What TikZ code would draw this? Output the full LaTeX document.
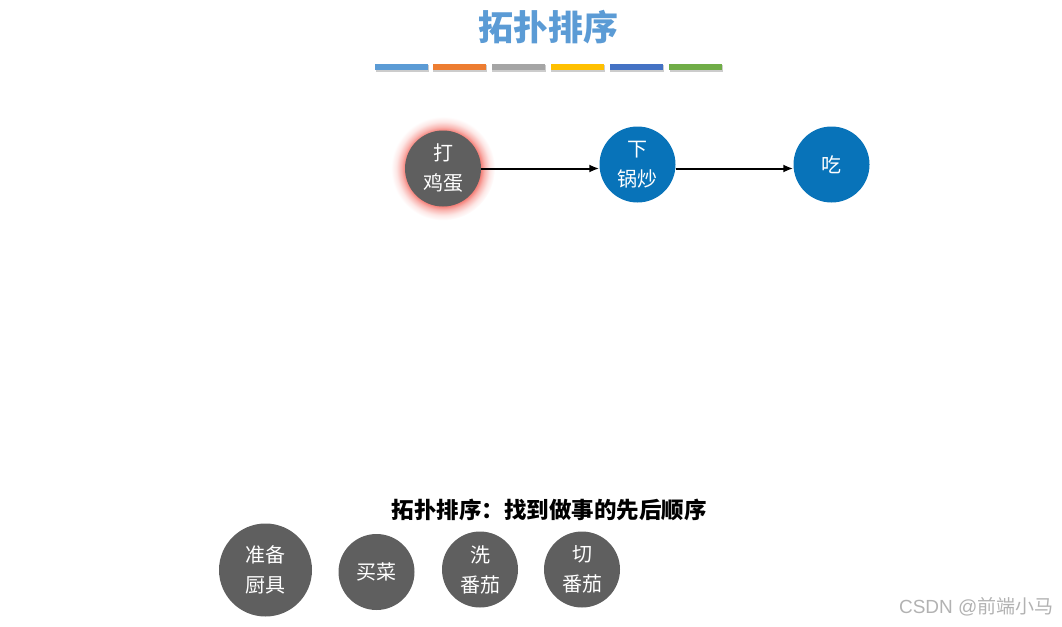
\documentclass[tikz,border=0pt]{standalone}
\usepackage{fontspec}
\setmainfont{Noto Sans CJK SC}
\newfontfamily\wmfont{Liberation Sans}
\usetikzlibrary{arrows.meta,shadings}
\definecolor{titleblue}{HTML}{5B9BD5}
\definecolor{barA}{HTML}{5B9BD5}
\definecolor{barB}{HTML}{ED7D31}
\definecolor{barC}{HTML}{A5A5A5}
\definecolor{barD}{HTML}{FFC000}
\definecolor{barE}{HTML}{4472C4}
\definecolor{barF}{HTML}{70AD47}
\definecolor{nodegray}{HTML}{5F5F5F}
\definecolor{nodeblue}{HTML}{0873B9}
\definecolor{glowred}{HTML}{F47A72}
\pgfdeclareradialshading{glowshade}{\pgfpoint{0bp}{0bp}}{color(0bp)=(glowred); color(18bp)=(glowred); color(20bp)=(glowred!55!white); color(22.5bp)=(glowred!18!white); color(25bp)=(white); color(50bp)=(white)}
\tikzset{
  task/.style={circle, minimum size=76pt, inner sep=0pt, text=white, align=center,
    font=\fontsize{20}{30}\selectfont},
  graytask/.style={task, fill=nodegray},
  bluetask/.style={task, fill=nodeblue},
  flow/.style={-{Latex[length=10pt,width=8pt]}, line width=2pt, black},
  bar/.style={minimum width=53pt, minimum height=6pt, inner sep=0pt},
}
\begin{document}
\begin{tikzpicture}[x=1pt,y=-1pt]
\useasboundingbox (0,0) rectangle (1062,626);
% title
\node[text=titleblue, font=\fontsize{35}{35}\selectfont\bfseries] (title) at (548,27) {拓扑排序};
% colour bars with shadow
\foreach \xx/\cc [count=\i] in {401.5/barA, 459/barB, 518/barC, 577/barD, 636/barE, 695.5/barF}{
  \fill[black!20] (\xx-26,65.5) rectangle (\xx+27.5,71.5);
  \node[bar, fill=\cc] (bar\i) at (\xx,67) {};
}
% glow
\shade[shading=glowshade] (443,168.5) circle (52);
% top row
\node[graytask] (egg) at (443,168.5) {打\\鸡蛋};
\node[bluetask] (fry) at (637.5,164.5) {下\\锅炒};
\node[bluetask] (eat) at (831.5,164.5) {吃};
\coordinate (e1) at (egg.east);
\draw[flow] (e1) -- (e1 -| fry.west);
\coordinate (e2) at (fry.east |- e1);
\draw[flow] (e2) -- (e2 -| eat.west);
% bottom
\node[font=\fontsize{22.5}{22.5}\selectfont\bfseries] (caption) at (549,510) {拓扑排序：找到做事的先后顺序};
\node[graytask, minimum size=93pt] (prep) at (265.5,570) {准备\\厨具};
\node[graytask] (buy) at (376.5,572) {买菜};
\node[graytask] (wash) at (480,569.5) {洗\\番茄};
\node[graytask] (cut) at (582,569.5) {切\\番茄};
% watermark
\node[text=black!30, anchor=east, font=\fontsize{19}{19}\selectfont] (wm) at (1057,607) {\wmfont CSDN @\rmfamily 前端小马};
\end{tikzpicture}
\end{document}
